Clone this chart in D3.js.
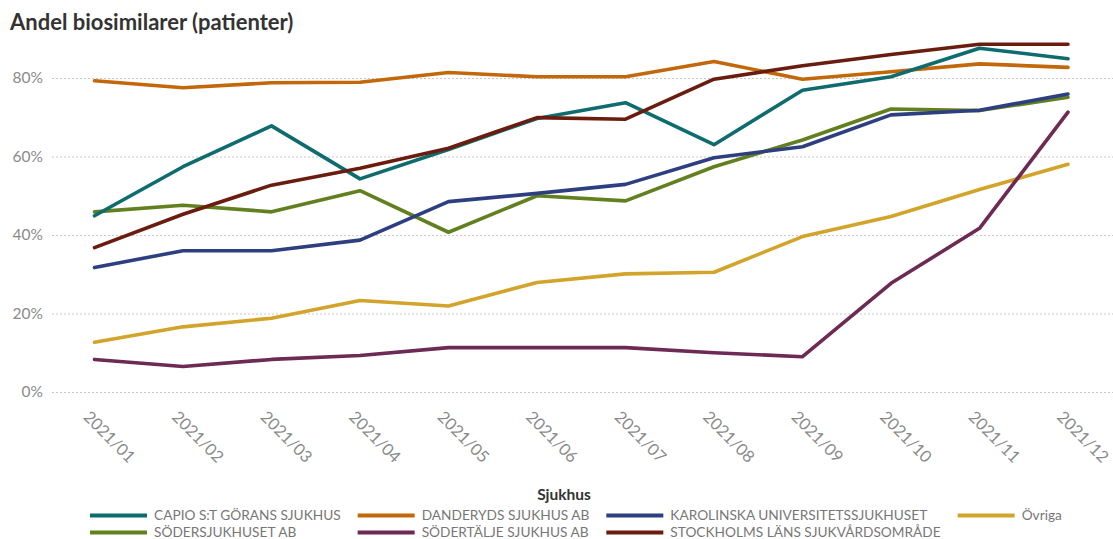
<!DOCTYPE html>
<html>
<head>
<meta charset="utf-8">
<script src="https://cdn.jsdelivr.net/npm/d3@7"></script>
<style>
  html, body { margin: 0; padding: 0; background: #fff; }
  svg { display: block; font-family: Lato, "Open Sans", sans-serif; }
</style>
</head>
<body>
<svg id="chart" width="1113" height="539"></svg>
<script>
// Monthly periods on the x axis
const months = ["2021/01","2021/02","2021/03","2021/04","2021/05","2021/06",
                "2021/07","2021/08","2021/09","2021/10","2021/11","2021/12"];

// Share of patients on biosimilars (%), one array per hospital
const capio       = [44.9, 57.4, 67.8, 54.3, 61.8, 69.7, 73.7, 63.0, 76.9, 80.3, 87.6, 84.9];
const danderyd    = [79.3, 77.5, 78.8, 78.9, 81.4, 80.3, 80.3, 84.2, 79.7, 81.6, 83.6, 82.7];
const karolinska  = [31.7, 36.0, 36.0, 38.7, 48.5, 50.6, 52.9, 59.7, 62.5, 70.6, 71.8, 75.9];
const ovriga      = [12.7, 16.6, 18.8, 23.3, 21.9, 27.9, 30.1, 30.5, 39.6, 44.7, 51.6, 58.0];
const sodersjukhuset = [45.9, 47.6, 45.9, 51.3, 40.7, 50.0, 48.7, 57.4, 64.2, 72.1, 71.7, 75.1];
const sodertalje  = [8.3, 6.5, 8.3, 9.3, 11.3, 11.3, 11.3, 10.0, 9.0, 27.7, 41.7, 71.3];
const stockholm   = [36.8, 45.3, 52.7, 57.0, 62.1, 69.9, 69.5, 79.7, 83.1, 86.0, 88.6, 88.6];

const seriesNames = [
  "CAPIO S:T GÖRANS SJUKHUS", "DANDERYDS SJUKHUS AB", "KAROLINSKA UNIVERSITETSSJUKHUSET", "Övriga",
  "SÖDERSJUKHUSET AB", "SÖDERTÄLJE SJUKHUS AB", "STOCKHOLMS LÄNS SJUKVÅRDSOMRÅDE"
];
const seriesValues = [capio, danderyd, karolinska, ovriga, sodersjukhuset, sodertalje, stockholm];
const seriesColors = ["#0e6b6e", "#c2680b", "#2d3f80", "#d3a42c", "#62801f", "#6c2a55", "#6a1c0e"];

// Order in which the lines are painted (later ones on top)
const drawOrder = [3, 5, 4, 2, 1, 0, 6];

const yTicks = [0, 20, 40, 60, 80];

const svg = d3.select("#chart");

const plot = { left: 52, right: 1113, top: 0, bottom: 392 };

const x = d3.scalePoint()
  .domain(months)
  .range([94.5, 1068]);

const y = d3.scaleLinear()
  .domain([0, 100])
  .range([plot.bottom, plot.bottom - 392.5]);

// Title
svg.append("text")
  .attr("x", 10)
  .attr("y", 30)
  .attr("fill", "#333")
  .style("font-size", "22px")
  .style("font-weight", "700")
  .text("Andel biosimilarer (patienter)");

// Horizontal grid + y labels
const yAxis = svg.append("g");
yAxis.selectAll("line")
  .data(yTicks)
  .join("line")
  .attr("x1", plot.left)
  .attr("x2", plot.right)
  .attr("y1", d => y(d) + 0.5)
  .attr("y2", d => y(d) + 0.5)
  .attr("stroke", "#c8c8c8")
  .attr("stroke-width", 1)
  .attr("stroke-dasharray", "2,2");

yAxis.selectAll("text")
  .data(yTicks)
  .join("text")
  .attr("x", 43)
  .attr("y", d => y(d))
  .attr("dy", "0.35em")
  .attr("text-anchor", "end")
  .attr("fill", "#8a8a8a")
  .style("font-size", "15.5px")
  .text(d => d + "%");

// Rotated month labels
svg.append("g")
  .selectAll("text")
  .data(months)
  .join("text")
  .attr("transform", d => `translate(${x(d) - 12},418) rotate(45)`)
  .attr("fill", "#8a8a8a")
  .style("font-size", "16.5px")
  .text(d => d);

// Lines
const line = d3.line()
  .x((d, i) => x(months[i]))
  .y(d => y(d));

svg.append("g")
  .selectAll("path")
  .data(drawOrder)
  .join("path")
  .attr("d", i => line(seriesValues[i]))
  .attr("fill", "none")
  .attr("stroke", i => seriesColors[i])
  .attr("stroke-width", 3.6)
  .attr("stroke-linejoin", "round")
  .attr("stroke-linecap", "round");

// Legend
svg.append("text")
  .attr("x", 564)
  .attr("y", 500)
  .attr("text-anchor", "middle")
  .attr("fill", "#333")
  .style("font-size", "15.5px")
  .style("font-weight", "700")
  .text("Sjukhus");

const legend = svg.append("g");
const nCols = 4;
const swatchW = 57, swatchGap = 7, colGap = 17;
const rowY = [515.5, 532.5];

const items = legend.selectAll("g.item")
  .data(seriesNames.map((name, i) => ({ name, i, col: i % nCols, row: Math.floor(i / nCols) })))
  .join("g")
  .attr("class", "item");

items.append("text")
  .attr("fill", "#777")
  .attr("dy", "0.35em")
  .style("font-size", "13.7px")
  .text(d => d.name);

// Column widths from the widest label in each column
const colText = d3.range(nCols).map(() => 0);
items.each(function(d) {
  const w = d3.select(this).select("text").node().getComputedTextLength();
  colText[d.col] = Math.max(colText[d.col], w);
});
const colW = colText.map(w => swatchW + swatchGap + w);
const startX = 90;
const colX = colW.map((w, c) => startX + d3.sum(colW.slice(0, c)) + colGap * c);

items.attr("transform", d => `translate(${colX[d.col]},${rowY[d.row]})`);

items.insert("line", "text")
  .attr("x1", 0)
  .attr("x2", swatchW)
  .attr("stroke", d => seriesColors[d.i])
  .attr("stroke-width", 4);

items.select("text").attr("x", swatchW + swatchGap);
</script>
</body>
</html>
